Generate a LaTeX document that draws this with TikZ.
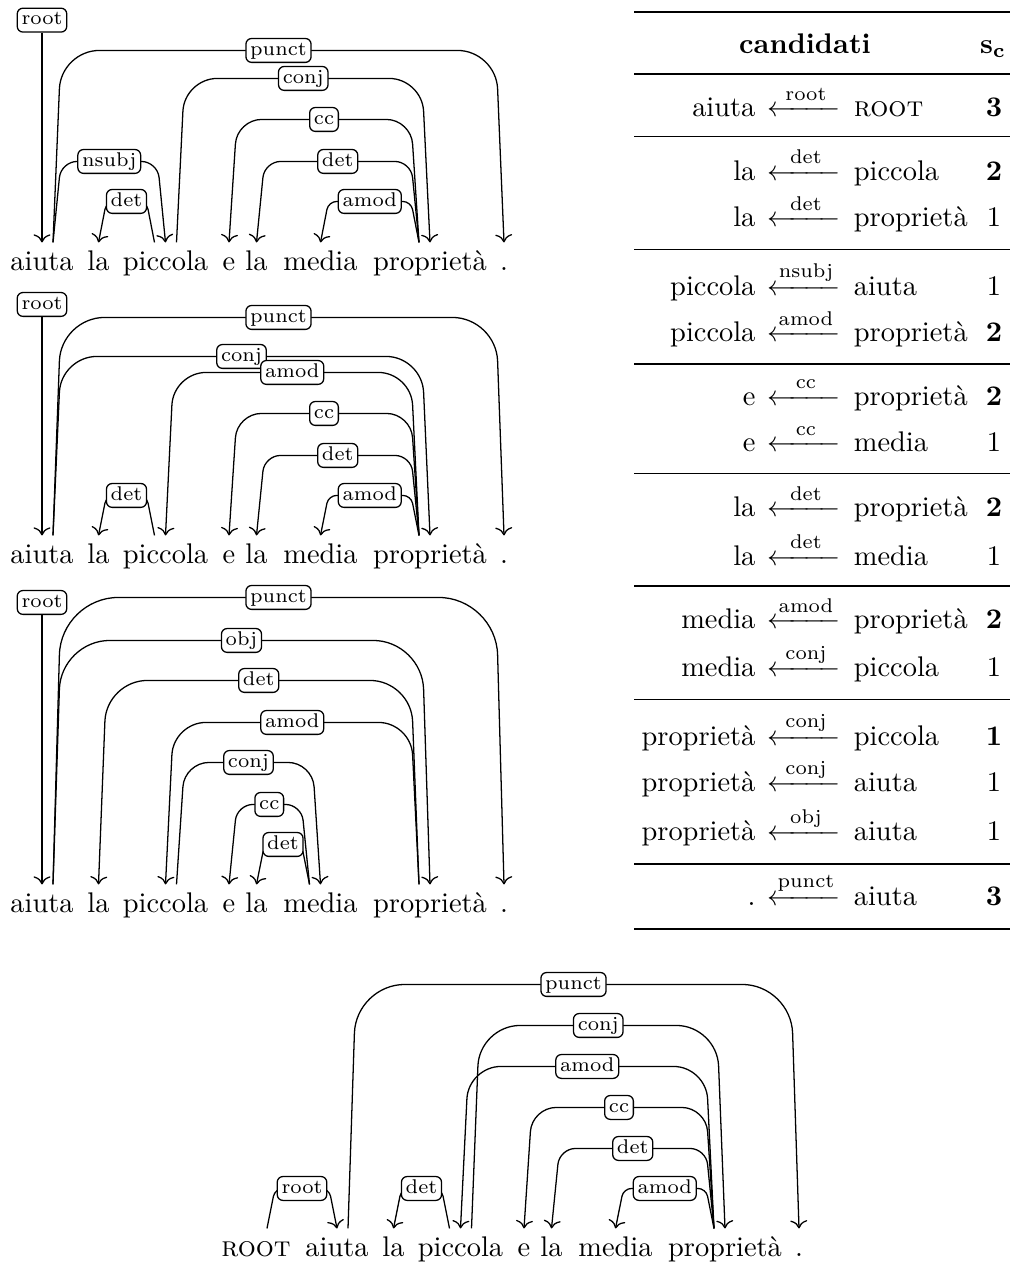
\documentclass[tikz,border=0pt]{standalone}
\usepackage{amsmath}
\usetikzlibrary{calc,arrows.meta}
\newcommand\depedge[6]{% #1 src, #2 tgt, #3 dir, #4 height(px), #5 label, #6 label name
  \pgfmathsetlengthmacro\myrc{0.2*#4*0.352pt}%
  \draw[arc,rounded corners=\myrc] ($(#1.north)+({(#3)*11},0)$) -- ++({(#3)*8},{-#4})
     -- ($(#2.north)+({-(#3)*8},{-#4})$) node[lab,midway] (#6) {#5} -- (#2.north);
}
\newcommand\myarr[1]{$\xleftarrow{\hbox to 19.6pt{\hss\scriptsize #1\hss}}$}
\begin{document}
\begin{tikzpicture}[x=0.352pt,y=-0.352pt,
  word/.style={anchor=base,inner xsep=0pt,inner ysep=2.5pt,text height=7pt,text depth=2pt},
  arc/.style={line width=0.45pt,-{To[scale=1.1]}},
  lab/.style={draw,fill=white,rounded corners=2pt,font=\scriptsize,inner xsep=1.5pt,inner ysep=1pt,
              text height=4.9pt,text depth=1.5pt,line width=0.45pt},
  tcell/.style={inner sep=0pt,anchor=base},
  heavy/.style={line width=0.8pt},
  light/.style={line width=0.5pt}]
\useasboundingbox (0,0) rectangle (1010,1263);

% ---------- three sentences (left) ----------
\foreach \p/\yb in {a/270,b/563,c/912}{
  \node[word] (\p1) at (42,\yb) {aiuta};
  \node[word] (\p2) at (98.5,\yb) {la};
  \node[word] (\p3) at (165.5,\yb) {piccola};
  \node[word] (\p4) at (229,\yb) {e};
  \node[word] (\p5) at (256.5,\yb) {la};
  \node[word] (\p6) at (320.5,\yb) {media};
  \node[word] (\p7) at (430,\yb) {propriet\`a};
  \node[word] (\p8) at (504,\yb) {.};
}

% diagram 1
\path (a1.north) ++(0,-222.3) node[lab] (aroot) {root};
\draw[arc] (aroot) -- (a1.north);
\depedge{a1}{a8}{1}{192}{punct}{al1}
\depedge{a3}{a7}{1}{164}{conj}{al2}
\depedge{a7}{a4}{-1}{123}{cc}{al3}
\depedge{a1}{a3}{1}{81}{nsubj}{al4}
\depedge{a7}{a5}{-1}{81}{det}{al5}
\depedge{a3}{a2}{-1}{41}{det}{al6}
\depedge{a7}{a6}{-1}{41}{amod}{al7}

% diagram 2
\path (b1.north) ++(0,-231) node[lab] (broot) {root};
\draw[arc] (broot) -- (b1.north);
\depedge{b1}{b8}{1}{218}{punct}{bl1}
\depedge{b1}{b7}{1}{179}{conj}{bl2}
\depedge{b7}{b3}{-1}{163}{amod}{bl3}
\depedge{b7}{b4}{-1}{122}{cc}{bl4}
\depedge{b7}{b5}{-1}{80}{det}{bl5}
\depedge{b3}{b2}{-1}{40}{det}{bl6}
\depedge{b7}{b6}{-1}{40}{amod}{bl7}

% diagram 3
\path (c1.north) ++(0,-282) node[lab] (croot) {root};
\draw[arc] (croot) -- (c1.north);
\depedge{c1}{c8}{1}{287}{punct}{cl1}
\depedge{c1}{c7}{1}{244}{obj}{cl2}
\depedge{c7}{c2}{-1}{204}{det}{cl3}
\depedge{c7}{c3}{-1}{162}{amod}{cl4}
\depedge{c3}{c6}{1}{122}{conj}{cl5}
\depedge{c6}{c4}{-1}{80}{cc}{cl6}
\depedge{c6}{c5}{-1}{40}{det}{cl7}

% ---------- bottom sentence ----------
\node[word] (e0) at (256,1256) {\textsc{root}};
\node[word] (e1) at (337,1256) {aiuta};
\node[word] (e2) at (393.5,1256) {la};
\node[word] (e3) at (460.5,1256) {piccola};
\node[word] (e4) at (524,1256) {e};
\node[word] (e5) at (551.5,1256) {la};
\node[word] (e6) at (615.5,1256) {media};
\node[word] (e7) at (725,1256) {propriet\`a};
\node[word] (e8) at (799,1256) {.};
\depedge{e1}{e8}{1}{244}{punct}{el1}
\depedge{e3}{e7}{1}{203}{conj}{el2}
\depedge{e7}{e3}{-1}{162}{amod}{el3}
\depedge{e7}{e4}{-1}{121}{cc}{el4}
\depedge{e7}{e5}{-1}{80}{det}{el5}
\depedge{e0}{e1}{1}{40}{root}{el6}
\depedge{e3}{e2}{-1}{40}{det}{el7}
\depedge{e7}{e6}{-1}{40}{amod}{el8}

% ---------- table ----------
\draw[heavy] (634,11.7) -- (1010,11.7);
\node[tcell] (th1) at (805,53.3) {\textbf{candidati}};
\node[tcell] (th2) at (993,53.3) {$\mathbf{s_c}$};
\foreach \yy in {74,136.7,249.3,364,473.5,586,699.3,864}{
  \draw[light] (634,\yy) -- (1010,\yy);
}
\draw[heavy] (634,929.3) -- (1010,929.3);
\foreach \yy/\dd/\ll/\hh/\ss [count=\i] in {
  116.7/aiuta/root/\textsc{root}/\textbf{3},
  180/la/det/piccola/\textbf{2},
  226.7/la/det/propriet\`a/1,
  295/piccola/nsubj/aiuta/1,
  341.7/piccola/amod/propriet\`a/\textbf{2},
  405/e/cc/propriet\`a/\textbf{2},
  451.7/e/cc/media/1,
  516.7/la/det/propriet\`a/\textbf{2},
  565/la/det/media/1,
  628.3/media/amod/propriet\`a/\textbf{2},
  676.7/media/conj/piccola/1,
  745/propriet\`a/conj/piccola/\textbf{1},
  791.7/propriet\`a/conj/aiuta/1,
  840.7/propriet\`a/obj/aiuta/1,
  905/./punct/aiuta/\textbf{3}}{
  \node[tcell,anchor=base east] (td\i) at (756,\yy) {\dd};
  \node[tcell] (ta\i) at (804,\yy) {\myarr{\ll}};
  \node[tcell,anchor=base west] (tg\i) at (853.3,\yy) {\hh};
  \node[tcell] (ts\i) at (994,\yy) {\ss};
}
\end{tikzpicture}
\end{document}
